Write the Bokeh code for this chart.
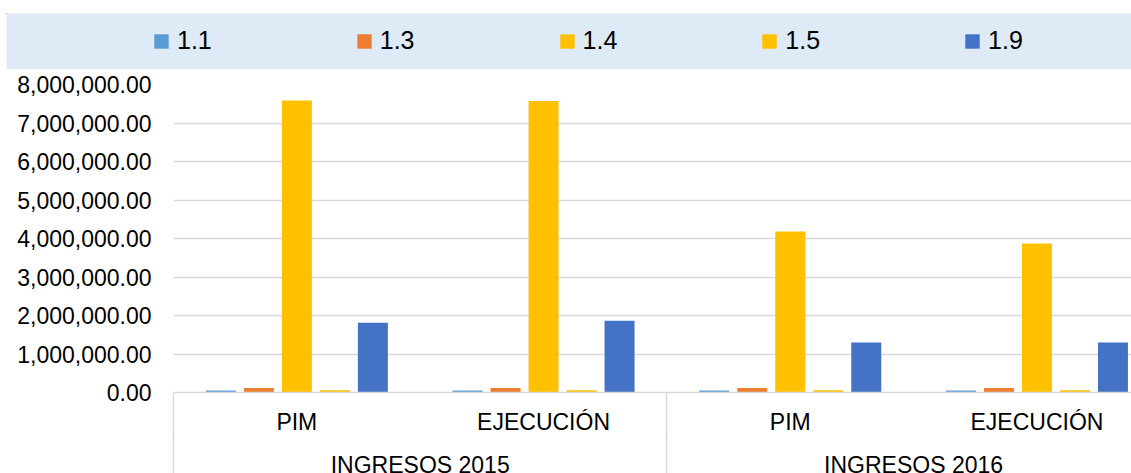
from bokeh.plotting import figure
from bokeh.models import (Range1d, FixedTicker, LinearAxis, NumeralTickFormatter,
                          Legend, LegendItem, ColumnDataSource)
from bokeh.transform import dodge
from bokeh.embed import file_html
from bokeh.resources import INLINE

# ---------------- data ----------------
periods = ["PIM", "EJECUCIÓN", "PIM", "EJECUCIÓN"]
years = ["INGRESOS 2015", "INGRESOS 2016"]
series_names = ["1.1", "1.3", "1.4", "1.5", "1.9"]
s_1_1 = [55000, 55000, 55000, 55000]
s_1_3 = [120000, 120000, 120000, 120000]
s_1_4 = [7585000, 7570000, 4180000, 3870000]
s_1_5 = [60000, 60000, 60000, 60000]
s_1_9 = [1810000, 1865000, 1300000, 1300000]
y_ticks = [0, 1000000, 2000000, 3000000, 4000000, 5000000, 6000000, 7000000, 8000000]

# ---------------- style ----------------
colors = ["#5B9BD5", "#ED7D31", "#FFC000", "#FFC000", "#4472C4"]
FONT = "Liberation Sans"
GRID = "#D9D9D9"
CAT_PX = 246.7
FRAME_W = 958
STEP = 38 / CAT_PX
BAR_W = 30 / CAT_PX

cat_x = [i + 0.5 for i in range(len(periods))]
year_x = [2 * g + 1 for g in range(len(years))]
bounds = [2 * g for g in range(len(years) + 1)]

src = ColumnDataSource(dict(x=cat_x, s11=s_1_1, s13=s_1_3, s14=s_1_4, s15=s_1_5, s19=s_1_9))
keys = ["s11", "s13", "s14", "s15", "s19"]

# ---------------- legend band (separate root, no frame alignment) ----------------
# its ranges keep the legend's bar renderers fully out of view: only the swatches show
top = figure(width=1131, height=69,
             x_range=Range1d(100, 101), y_range=Range1d(-20, -10),
             x_axis_type=None, y_axis_type=None,
             min_border_left=6, min_border_right=0, min_border_top=13, min_border_bottom=0,
             background_fill_color="#DEEBF7", border_fill_color="white",
             outline_line_color=None, toolbar_location=None, output_backend="svg")
items = []
for k, (name, key, c) in enumerate(zip(series_names, keys, colors)):
    r = top.vbar(x=dodge("x", (k - 2) * STEP), top=key, width=BAR_W, source=src,
                 fill_color=c, line_color=None)
    items.append(LegendItem(label=name, renderers=[r]))
legend = Legend(items=items, location=(146, 14), orientation="horizontal",
                padding=0, margin=0, spacing=143, glyph_width=18, glyph_height=18,
                label_standoff=7, label_text_font=FONT, label_text_font_size="25px",
                label_text_color="#000000", background_fill_alpha=0,
                border_line_color=None)
top.add_layout(legend)

# ---------------- main chart ----------------
p = figure(frame_width=FRAME_W, frame_height=308,
           x_range=Range1d(0, FRAME_W / CAT_PX), y_range=Range1d(0, 8000000),
           x_axis_type=None,
           min_border_left=173, min_border_right=0, min_border_top=15, min_border_bottom=0,
           outline_line_color=None, toolbar_location=None, output_backend="svg")

for k, (key, c) in enumerate(zip(keys, colors)):
    p.vbar(x=dodge("x", (k - 2) * STEP), top=key, width=BAR_W, source=src,
           fill_color=c, line_color=None)

yax = p.yaxis[0]
yax.ticker = FixedTicker(ticks=y_ticks)
yax.formatter = NumeralTickFormatter(format="0,0.00")
yax.axis_line_color = None
yax.major_tick_line_color = None
yax.minor_tick_line_color = None
yax.major_tick_out = 0
yax.major_label_standoff = 22
yax.major_label_text_font = FONT
yax.major_label_text_font_size = "23px"
yax.major_label_text_color = "#000000"

p.ygrid.ticker = FixedTicker(ticks=y_ticks)
p.ygrid.grid_line_color = GRID
p.ygrid.grid_line_width = 1.4

# level 1 category axis (PIM / EJECUCIÓN), group separators drawn as minor ticks
ax1 = LinearAxis(ticker=FixedTicker(ticks=cat_x, minor_ticks=bounds),
                 major_label_overrides={x: lab for x, lab in zip(cat_x, periods)})
ax1.axis_line_color = GRID
ax1.axis_line_width = 1.5
ax1.major_tick_line_color = None
ax1.major_tick_out = 0
ax1.major_tick_in = 0
ax1.minor_tick_line_color = GRID
ax1.minor_tick_line_width = 1.5
ax1.minor_tick_in = 0
ax1.minor_tick_out = 46
ax1.major_label_standoff = 16 - 46
ax1.major_label_text_font = FONT
ax1.major_label_text_font_size = "23px"
ax1.major_label_text_color = "#000000"
p.add_layout(ax1, "below")

# level 2 category axis (INGRESOS 2015 / 2016)
ax2 = LinearAxis(ticker=FixedTicker(ticks=year_x, minor_ticks=bounds),
                 major_label_overrides={x: lab for x, lab in zip(year_x, years)})
ax2.axis_line_color = None
ax2.major_tick_line_color = None
ax2.major_tick_out = 0
ax2.major_tick_in = 0
ax2.minor_tick_line_color = GRID
ax2.minor_tick_line_width = 1.5
ax2.minor_tick_in = 0
ax2.minor_tick_out = 50
ax2.major_label_standoff = 14 - 50
ax2.major_label_text_font = FONT
ax2.major_label_text_font_size = "23px"
ax2.major_label_text_color = "#000000"
p.add_layout(ax2, "below")

html = file_html([top, p], INLINE)
html = html.replace("<head>", "<head><style>html,body{overflow:hidden;margin:0}</style>", 1)
open("out.html", "w").write(html)
